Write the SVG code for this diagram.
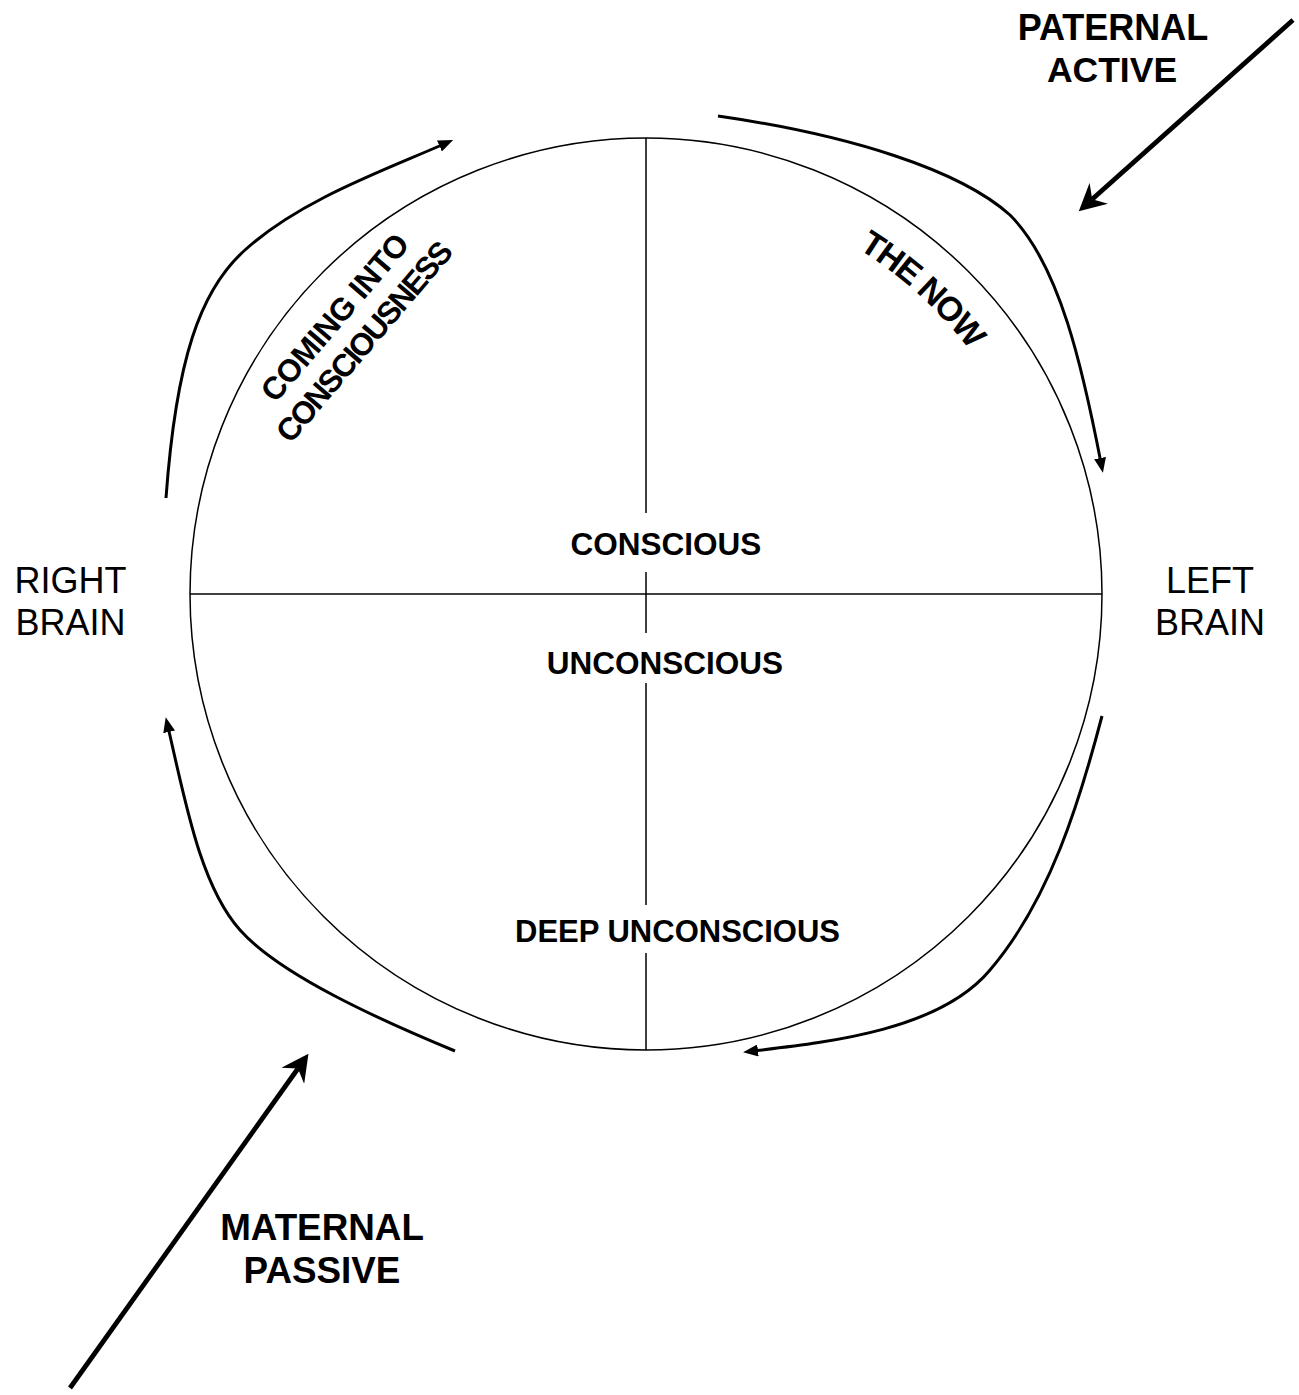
<svg xmlns="http://www.w3.org/2000/svg" width="1299" height="1395" viewBox="0 0 1299 1395">
  <style>
    .bold { font-family: "Liberation Sans", Arial, sans-serif; font-weight: bold; fill: #000; text-anchor: middle; }
    .reg { font-family: "Liberation Sans", Arial, sans-serif; fill: #000; text-anchor: middle; }
    .thin { fill: none; stroke: #000; stroke-width: 1.5; }
    .flow { fill: none; stroke: #000; stroke-width: 3; marker-end: url(#tri); }
    .force { fill: none; stroke: #000; stroke-width: 4.8; marker-end: url(#barb); }
  </style>
  <defs>
    <marker id="tri" viewBox="0 0 15 12" refX="5" refY="6" markerWidth="15" markerHeight="12" markerUnits="userSpaceOnUse" orient="auto">
      <path d="M0,0 L15,6 L0,12 Z" fill="#000"/>
    </marker>
    <marker id="barb" viewBox="0 0 27 28" refX="9" refY="14" markerWidth="27" markerHeight="28" markerUnits="userSpaceOnUse" orient="auto">
      <path d="M27,14 L0,0 L9,14 L0,28 Z" fill="#000"/>
    </marker>
    <path id="nowArc" d="M714.2,194.8 A405,405 0 0 1 1036.7,487.1"/>
  </defs>

  <!-- the mind circle with its quadrant axes -->
  <g id="mind">
    <circle class="thin" cx="646" cy="594" r="456"/>
    <line class="thin" x1="190" y1="594" x2="1102" y2="594"/>
    <path class="thin" d="M646,138 V513 M646,572 V633 M646,683 V905 M646,953 V1050"/>
  </g>

  <g id="conscious"><text class="bold" x="666" y="555" font-size="31.5">CONSCIOUS</text></g>
  <g id="unconscious"><text class="bold" x="665" y="674" font-size="31.5">UNCONSCIOUS</text></g>
  <g id="deep-unconscious"><text class="bold" x="677.5" y="942" font-size="31">DEEP UNCONSCIOUS</text></g>

  <g id="coming-into-consciousness" transform="translate(343,324.5) rotate(-49.5)">
    <text class="bold" x="0" y="0" font-size="31.5" letter-spacing="-0.4">COMING INTO</text>
    <text class="bold" x="0" y="38" font-size="31.5" letter-spacing="-2">CONSCIOUSNESS</text>
  </g>

  <g id="the-now">
    <text class="bold" font-size="34" letter-spacing="-1.5"><textPath href="#nowArc" startOffset="50%">THE NOW</textPath></text>
  </g>

  <g id="right-brain">
    <text class="reg" x="70.5" y="593" font-size="36">RIGHT</text>
    <text class="reg" x="70.5" y="635" font-size="36">BRAIN</text>
  </g>
  <g id="left-brain">
    <text class="reg" x="1210" y="593" font-size="36">LEFT</text>
    <text class="reg" x="1210" y="635" font-size="36">BRAIN</text>
  </g>

  <g id="paternal-active">
    <text class="bold" x="1113" y="40" font-size="36">PATERNAL</text>
    <text class="bold" x="1112" y="82" font-size="35.5">ACTIVE</text>
  </g>
  <g id="maternal-passive">
    <text class="bold" x="322" y="1240" font-size="36.8">MATERNAL</text>
    <text class="bold" x="322" y="1283" font-size="36.8">PASSIVE</text>
  </g>

  <!-- circulating flow around the circle and the two incoming forces -->
  <g id="connectors">
    <path class="flow" d="M166,498 C176,360 200,290 245,250 C300,200 385,170 444,144"/>
    <path class="flow" d="M718,116 C850,135 960,170 1010,215 C1060,265 1083,370 1101,463"/>
    <path class="flow" d="M1102,716 C1080,800 1050,900 990,970 C940,1030 830,1042 753,1051"/>
    <path class="flow" d="M455,1051 C380,1020 280,975 240,930 C200,885 185,800 168,727"/>
    <path class="force" d="M1293,20 L1092.2,199.3"/>
    <path class="force" d="M70,1388 L298,1068.5"/>
  </g>
</svg>
